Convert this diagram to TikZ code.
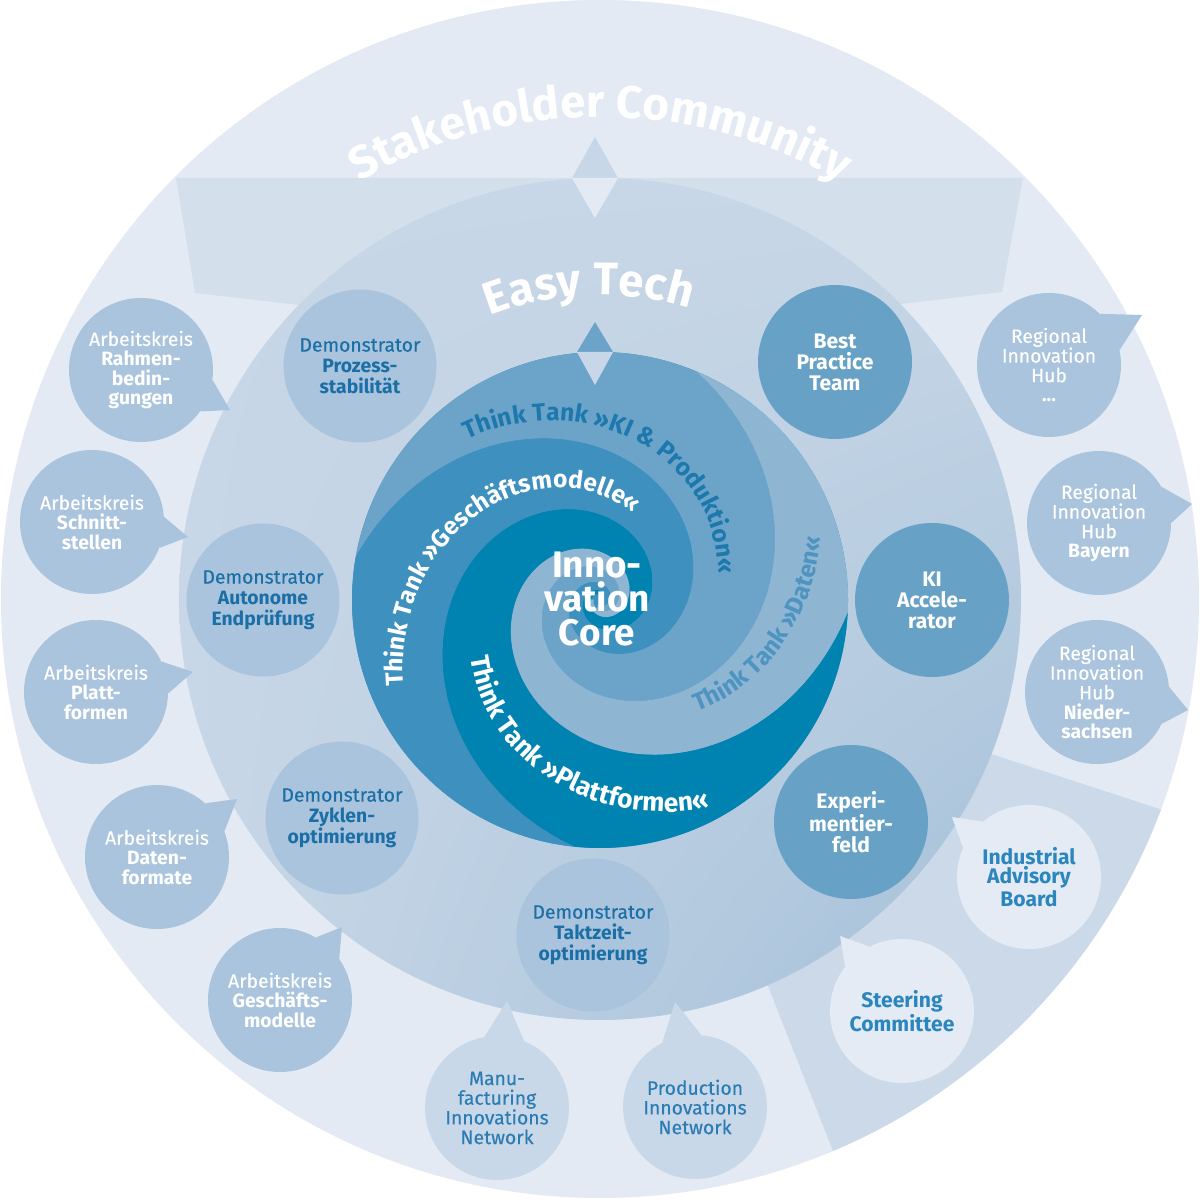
\documentclass[tikz,border=0pt]{standalone}
\usepackage{fontspec}
\setmainfont{Fira Sans}[UprightFeatures={FakeBold=0.3}]
\usetikzlibrary{calc, shadings, decorations.text}

\definecolor{ringPale}{HTML}{E3EAF4}
\definecolor{bandTop}{HTML}{D4DFEC}
\definecolor{bandLow}{HTML}{CBD9E8}
\definecolor{easyFill}{HTML}{C8D7E7}
\definecolor{easyDeep}{HTML}{A3BFD8}
\definecolor{bubbleFill}{HTML}{A9C4DC}
\definecolor{darkBubble}{HTML}{67A2C6}
\definecolor{paleBubble}{HTML}{E4EBF5}
\definecolor{netBubble}{HTML}{C9D8E8}
\definecolor{armKI}{HTML}{6BA4C8}
\definecolor{armDaten}{HTML}{8EB6D3}
\definecolor{armPlatt}{HTML}{0083B0}
\definecolor{armGesch}{HTML}{3E90BE}
\definecolor{deepText}{HTML}{1B6FA6}
\definecolor{boardText}{HTML}{2B86BD}
\definecolor{netText}{HTML}{2A7CB3}
\definecolor{kiText}{HTML}{1C78AD}
\definecolor{datenText}{HTML}{4F93C1}

\newcommand{\tankfont}{\fontsize{14}{14}\selectfont\bfseries}
\newcommand{\titlefont}{\fontsize{26}{26}\selectfont\bfseries}

\begin{document}
\begin{tikzpicture}[x=0.02cm, y=0.02cm,
  bubble/.style={circle, inner sep=0pt, minimum size=2.88cm, align=center, font=\fontsize{11}{11.2}\selectfont},
  akbubble/.style={bubble, fill=bubbleFill, text=white},
  demobubble/.style={bubble, minimum size=3.06cm, fill=bubbleFill, text=deepText, font=\fontsize{11}{11.9}\selectfont},
  teambubble/.style={bubble, minimum size=3.08cm, fill=darkBubble, text=white, font=\fontsize{12}{11.9}\selectfont\bfseries},
  boardbubble/.style={bubble, fill=paleBubble, text=boardText, font=\fontsize{12}{11.2}\selectfont\bfseries},
  netbubble/.style={bubble, fill=netBubble, text=netText},
  pathtext/.style={decorate, decoration={text along path, text={#1}}},
  arctext/.style={decorate, decoration={text along path, text align=center, text={#1}}}]

  \useasboundingbox (0,0) rectangle (1200,1198);
  \fill[white] (0,0) rectangle (1200,1198);
  \fill[ringPale] (600,599) circle[radius=599];
  \begin{scope}
    \clip (600,599) circle[radius=599];
    \fill[bandTop] (176,1020) -- (1023,1020) -- (1002,906) -- (600,858) -- (195,905) -- cycle;
    \fill[bandLow] (630,562) -- (1230,366) -- (876,-62) -- cycle;
  \end{scope}

  \shade[upper left=easyFill, upper right=easyFill, lower left=easyFill, lower right=easyDeep] (600,599) circle[radius=421];
  \fill[easyFill] (572,1020) -- (595,1061) -- (618,1020) -- cycle;
  \fill[ringPale] (572,1020) -- (595,980) -- (618,1020) -- cycle;

  \begin{scope}[shift={(600,598)}]
    \fill[armGesch] (0,0) circle[radius=248];
    \foreach \a/\b/\c [evaluate=\b as \e using \b-540] in {170/67/armKI, 67/-3/armDaten, -3/-96/armPlatt, -96/-190/armGesch}
      \fill[\c] (\a:248) arc[start angle=\a, end angle=\b, radius=248]
        -- plot[domain=\b:\e, samples=200] (\x:{248*exp(-0.35*rad(\b-\x))})
        -- plot[domain=\e:\a, samples=200] (\x:{248*exp(-0.35*rad(\a-\x))}) -- cycle;

    \path[pathtext={|\tankfont\color{kiText}|Think Tank »KI {\&} Produktion«}]
      plot[domain=129.5:-20, samples=80] (\x:{207*exp(-0.27*rad(128-\x))});
    \path[pathtext={|\tankfont\color{white}|Think Tank »Geschäftsmodelle«}]
      plot[domain=203.5:40, samples=80] (\x:{214*exp(-0.36*rad(203-\x))});
    \path[pathtext={|\fontsize{15}{15}\selectfont\bfseries\color{white}|Think Tank »Plattformen«}]
      plot[domain=204:340, samples=80] (\x:{143*exp(0.31*rad(\x-206))});
    \path[pathtext={|\tankfont\color{datenText}|Think Tank »Daten«}]
      plot[domain=-49:60, samples=80] (\x:{150*exp(0.39*rad(\x+47))});
  \end{scope}
  \fill[armKI] (577,846) -- (595,876) -- (613,846) -- cycle;
  \fill[easyFill] (577,846) -- (595,813) -- (613,846) -- cycle;

  \node[text=white, align=center, font=\fontsize{21}{19.5}\selectfont\bfseries] (innoCore) at (597,599) {Inno-\\vation\\Core};

  \path[arctext={|\titlefont\color{white}|Stakeholder Community}]
    ($(600,599)+(125:482)$) arc[start angle=125, end angle=55, radius=482];
  \path[arctext={|\titlefont\color{white}|Easy Tech}]
    ($(600,599)+(112:304)$) arc[start angle=112, end angle=72, radius=304];

  \node[demobubble] (demoProz) at (360,832) {Demonstrator\\\textbf{Prozess-}\\\textbf{stabilität}};
  \node[demobubble] (demoAuto) at (263,598) {Demonstrator\\\textbf{Autonome}\\\textbf{Endprüfung}};
  \node[demobubble] (demoZykl) at (342,380) {Demonstrator\\\textbf{Zyklen-}\\\textbf{optimierung}};
  \node[demobubble] (demoTakt) at (593,263) {Demonstrator\\\textbf{Taktzeit-}\\\textbf{optimierung}};
  \node[teambubble] (bestPractice) at (835,836) {Best\\Practice\\Team};
  \node[teambubble] (kiAccel) at (932,598) {KI\\Accele-\\rator};
  \node[teambubble] (expField) at (851,376) {Experi-\\mentier-\\feld};

  \node[akbubble] (akRahmen) at (141,828) {Arbeitskreis\\\textbf{Rahmen-}\\\textbf{bedin-}\\\textbf{gungen}};
  \node[akbubble] (akSchnitt) at (92,676) {Arbeitskreis\\\textbf{Schnitt-}\\\textbf{stellen}};
  \node[akbubble] (akPlatt) at (96,506) {Arbeitskreis\\\textbf{Platt-}\\\textbf{formen}};
  \node[akbubble] (akDaten) at (157,341) {Arbeitskreis\\\textbf{Daten-}\\\textbf{formate}};
  \node[akbubble] (akGesch) at (280,198) {Arbeitskreis\\\textbf{Geschäfts-}\\\textbf{modelle}};
  \node[akbubble] (hubMore) at (1049,833) {Regional\\Innovation\\Hub\\\textbf{...}};
  \node[akbubble] (hubBayern) at (1099,675) {Regional\\Innovation\\Hub\\\textbf{Bayern}};
  \node[akbubble] (hubNds) at (1097,506) {Regional\\Innovation\\Hub\\\textbf{Nieder-}\\\textbf{sachsen}};
  \node[boardbubble] (advBoard) at (1029,321) {Industrial\\Advisory\\Board};
  \node[boardbubble] (steerCom) at (902,187) {Steering\\Committee};
  \node[netbubble] (manuNet) at (497,90) {Manu-\\facturing\\Innovations\\Network};
  \node[netbubble] (prodNet) at (695,91) {Production\\Innovations\\Network};

  \coordinate (tip-akRahmen) at (230,788);
  \coordinate (tip-akSchnitt) at (188,661);
  \coordinate (tip-akPlatt) at (193,526);
  \coordinate (tip-akDaten) at (237,399);
  \coordinate (tip-akGesch) at (342,271);
  \coordinate (tip-hubMore) at (1142,883);
  \coordinate (tip-hubBayern) at (1192,694);
  \coordinate (tip-hubNds) at (1188,488);
  \coordinate (tip-advBoard) at (952,381);
  \coordinate (tip-steerCom) at (840,262);
  \coordinate (tip-manuNet) at (507,197);
  \coordinate (tip-prodNet) at (675,196);

  \foreach \n/\a/\b/\c in {akRahmen/-8/-35/bubbleFill, akSchnitt/4/-21/bubbleFill, akPlatt/25/-1/bubbleFill,
      akDaten/48/21/bubbleFill, akGesch/60/35/bubbleFill, hubMore/45/12/bubbleFill, hubBayern/30/0/bubbleFill,
      hubNds/4/-26/bubbleFill, advBoard/130/156/paleBubble, steerCom/117/142/paleBubble,
      manuNet/100/68/netBubble, prodNet/117/85/netBubble}
    \fill[\c] (\n.\a) -- (tip-\n) -- (\n.\b) -- cycle;
\end{tikzpicture}
\end{document}
